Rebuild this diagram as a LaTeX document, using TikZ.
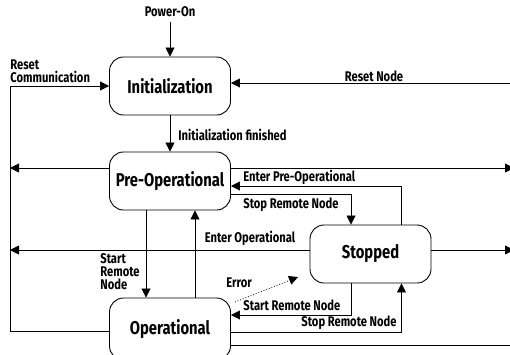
\documentclass[tikz,border=0pt]{standalone}
\usepackage{fontspec}
\setmainfont[FakeStretch=0.8]{Fira Sans}
\usepackage{tikz}
\usetikzlibrary{arrows.meta}
\tikzstyle{state}=[rectangle,rounded corners=14pt,draw=black,line width=0.9pt,minimum width=121pt,minimum height=58pt,font=\fontsize{18.5}{20}\selectfont\bfseries]
\tikzstyle{lbl}=[font=\fontsize{14}{13}\selectfont\bfseries,inner sep=0pt,align=left]

\begin{document}
\begin{tikzpicture}[x=1pt,y=-1pt,line width=0.8pt,>={Triangle[length=9pt,width=9pt]}]
        \useasboundingbox (0,0) rectangle (510,354);

        \node at (170,86)    [state] (init)    {Initialization};
        \node at (170,181)   [state] (preop)   {Pre-Operational};
        \node at (370.5,254) [state] (stopped) {Stopped};
        \node at (170,329)   [state,minimum height=62pt] (op) {Operational};

        \coordinate (pwr) at (170,22);
        \coordinate (lt)  at (10,86);
        \coordinate (lb)  at (10,331);
        \coordinate (rn)  at (514,83);
        \coordinate (err1) at (235,302);
        \coordinate (err2) at (298,277);

        \node at (170,12)  [lbl] (lpwr) {Power-On};
        \node at (10,71)   [lbl,anchor=west] (lrc) {Reset\\Communication};
        \node at (374,76)  [lbl] (lrn) {Reset Node};
        \node at (178,135) [lbl,anchor=west] (lif) {Initialization finished};
        \node at (243,177) [lbl,anchor=west] (lepo) {Enter Pre-Operational};
        \node at (243,205) [lbl,anchor=west] (lsrn1) {Stop Remote Node};
        \node at (250,238) [lbl] (leo) {Enter Operational};
        \node at (100,272) [lbl,anchor=west] (lstart) {Start\\Remote\\Node};
        \node at (226,283) [lbl,anchor=west] (lerr) {Error};
        \node at (243,305) [lbl,anchor=west] (lstrn) {Start Remote Node};
        \node at (397,323) [lbl,anchor=east] (lsrn2) {Stop Remote Node};

        \draw [->] (pwr) -- (init.north);
        \draw [->] ([yshift=-2pt]op.west) -- (lb) -- (lt) -- (init.west);
        \draw [->] (rn) -- ([yshift=3pt]init.east);
        \draw [->] (init) -- (preop);
        \draw [->] ([yshift=13pt]preop.west) -- ([yshift=13pt]preop.west -| lt);
        \draw [->] ([yshift=13pt]preop.east) -- ([yshift=13pt]preop.east -| rn);
        \draw [->] ([xshift=30.5pt]stopped.north) |- ([yshift=-5pt]preop.east);
        \draw [->] ([yshift=-13pt]preop.east) -| ([xshift=-19.5pt]stopped.north);
        \draw [->] ([yshift=4pt]stopped.west) -- ([yshift=4pt]stopped.west -| lt);
        \draw [->] ([yshift=4pt]stopped.east) -- ([yshift=4pt]stopped.east -| rn);
        \draw [->] ([xshift=-24pt]preop.south) -- ([xshift=-24pt]op.north);
        \draw [->] ([xshift=25pt]op.north) -- ([xshift=25pt]preop.south);
        \draw [->,dotted] (err1) -- (err2);
        \draw [->] ([xshift=-19.5pt]stopped.south) |- ([yshift=14pt]op.east);
        \draw [->] ([yshift=-3pt]op.east) -| ([xshift=31pt]stopped.south);
        \draw ([yshift=-16pt]op.east) -- ([yshift=-16pt]op.east -| rn);
      \end{tikzpicture}
\end{document}
